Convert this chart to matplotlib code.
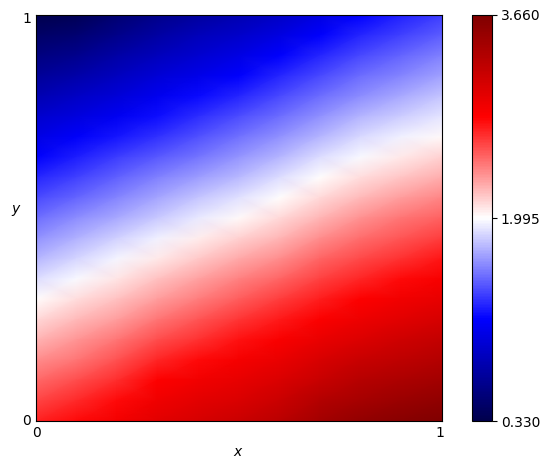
import matplotlib
matplotlib.use("Agg")
import numpy as np
import matplotlib.pyplot as plt

# values, one list per x position, from y=1 down to y=0
x_pos = [0.0, 0.1, 0.2, 0.3, 0.4, 0.5, 0.6, 0.7, 0.8, 0.9, 1.0]
y_pos = [1.0 - i * 0.05 for i in range(21)]

col_00 = [0.33, 0.45, 0.57, 0.69, 0.81, 0.93, 1.04, 1.16, 1.28, 1.40, 1.52, 1.64, 1.76, 1.88, 2.00, 2.12, 2.24, 2.36, 2.48, 2.60, 2.72]
col_01 = [0.38, 0.51, 0.63, 0.76, 0.89, 1.01, 1.14, 1.26, 1.38, 1.50, 1.62, 1.74, 1.86, 1.98, 2.10, 2.22, 2.34, 2.45, 2.57, 2.69, 2.80]
col_02 = [0.50, 0.62, 0.75, 0.87, 0.99, 1.11, 1.24, 1.36, 1.48, 1.60, 1.72, 1.84, 1.96, 2.08, 2.20, 2.32, 2.44, 2.56, 2.68, 2.80, 2.90]
col_03 = [0.62, 0.74, 0.86, 0.98, 1.09, 1.21, 1.33, 1.46, 1.58, 1.70, 1.82, 1.95, 2.07, 2.20, 2.32, 2.45, 2.58, 2.70, 2.83, 2.92, 3.02]
col_04 = [0.72, 0.84, 0.95, 1.07, 1.19, 1.31, 1.43, 1.55, 1.68, 1.80, 1.92, 2.05, 2.17, 2.30, 2.42, 2.55, 2.67, 2.80, 2.91, 3.00, 3.10]
col_05 = [0.80, 0.92, 1.04, 1.16, 1.28, 1.41, 1.53, 1.65, 1.77, 1.90, 2.02, 2.15, 2.27, 2.40, 2.52, 2.65, 2.77, 2.88, 2.98, 3.07, 3.17]
col_06 = [0.90, 1.03, 1.16, 1.28, 1.40, 1.52, 1.64, 1.76, 1.88, 2.00, 2.12, 2.24, 2.37, 2.49, 2.62, 2.74, 2.86, 2.96, 3.07, 3.17, 3.28]
col_07 = [1.02, 1.16, 1.28, 1.40, 1.52, 1.64, 1.76, 1.88, 2.00, 2.12, 2.24, 2.36, 2.49, 2.61, 2.73, 2.85, 2.96, 3.08, 3.19, 3.31, 3.42]
col_08 = [1.17, 1.28, 1.40, 1.52, 1.63, 1.75, 1.87, 1.98, 2.10, 2.22, 2.35, 2.47, 2.59, 2.71, 2.83, 2.94, 3.06, 3.18, 3.30, 3.41, 3.53]
col_09 = [1.27, 1.38, 1.49, 1.60, 1.72, 1.83, 1.95, 2.07, 2.19, 2.31, 2.44, 2.55, 2.67, 2.79, 2.91, 3.02, 3.14, 3.25, 3.37, 3.48, 3.60]
col_10 = [1.36, 1.47, 1.58, 1.69, 1.80, 1.91, 2.02, 2.14, 2.26, 2.39, 2.51, 2.63, 2.75, 2.87, 2.98, 3.10, 3.21, 3.32, 3.43, 3.55, 3.66]

cbar_ticks = [0.33, 1.995, 3.66]

fig = plt.figure(figsize=(5.51, 4.69), dpi=100)
ax = fig.add_axes([35.7 / 551, 1 - 421 / 469, 405.8 / 551, 406 / 469])
cax = fig.add_axes([471.5 / 551, 1 - 421 / 469, 21 / 551, 406 / 469])

# smooth shading between the read values
grid = np.array([col_00, col_01, col_02, col_03, col_04, col_05,
                 col_06, col_07, col_08, col_09, col_10]).T
mesh = ax.pcolormesh(x_pos, y_pos, grid, cmap="seismic", vmin=0.33, vmax=3.66,
                     shading="gouraud")

# the tick labels in the original sit just inside the corners
ax.set_xlim(0, 1)
ax.set_ylim(0, 1)
ax.set_xticks([0.003, 0.995])
ax.set_yticks([0.003, 0.995])
ax.set_xticklabels(["0", "1"])
ax.set_yticklabels(["0", "1"])
ax.tick_params(length=0)
ax.set_xlabel("$x$")
ax.set_ylabel("$y$", rotation=0)

cbar = fig.colorbar(mesh, cax=cax)
cbar.set_ticks(cbar_ticks)
cbar.ax.set_yticklabels(["%.3f" % t for t in cbar_ticks])
cbar.ax.tick_params(pad=2.5)

plt.savefig("out.png", dpi=100)
